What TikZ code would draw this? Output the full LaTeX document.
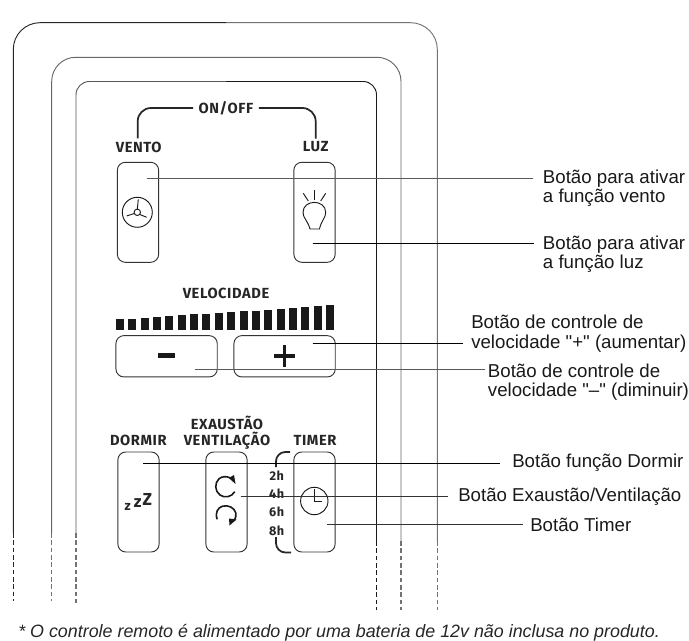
\documentclass[tikz,border=0pt]{standalone}
\usepackage{fontspec}
\setmainfont{Liberation Sans}
\newfontfamily\labelfont{Liberation Sans}
\newfontfamily\panelfont[LetterSpace=4]{Fira Sans}
\newcommand{\vbar}[2]{\fill[black!90] (#1,330) rectangle (#1+8,#2);}
\tikzset{
  btn/.style={draw=black!80,line width=.7pt,rounded corners=6pt,inner sep=0pt},
  tall/.style={btn,minimum width=31pt,minimum height=75pt},
  wide/.style={btn,minimum width=76pt,minimum height=31pt},
  panel/.style={font=\panelfont\bfseries\fontsize{11}{11.8}\selectfont,text=black!85,inner sep=0pt,align=center},
  hours/.style={panel,font=\panelfont\bfseries\fontsize{9.5}{10}\selectfont},
  callout/.style={font=\labelfont\fontsize{14}{14.6}\selectfont,text=black!90,inner sep=0pt,align=left,anchor=west},
  leader/.style={line width=.6pt},
  case/.style={line width=.7pt},
  casedash/.style={line width=.8pt,dash pattern=on 3.5pt off 2pt},
  brace/.style={line width=1.3pt,black!85,rounded corners=7pt},
  icon/.style={line width=.7pt,black!90},
  turn/.style={line width=1.2pt,black!90},
}
\begin{document}
\begin{tikzpicture}[x=.75pt,y=-.75pt]
  \useasboundingbox (0,0) rectangle (689,641);
  % body of the remote
  \draw[case,black!85,rounded corners=20pt] (13.3,533) -- (13.3,22.7) -- (226,22.7);
  \draw[case,black!55,rounded corners=20pt] (226,22.7) -- (437.3,22.7) -- (437.3,541);
  \draw[case,black!60,rounded corners=18pt] (51.7,533) -- (51.7,57.3) -- (401,57.3) -- (401,541);
  \draw[case,black!65,rounded corners=10pt] (76,533) -- (76,81.5) -- (226,81.5);
  \draw[case,black!90,rounded corners=10pt] (226,81.5) -- (376.5,81.5) -- (376.5,541);
  \draw[casedash,black!85] (13.3,533) -- (13.3,601);
  \draw[casedash,black!55] (51.7,533) -- (51.7,601);
  \draw[casedash,black!55] (76,533) -- (76,603);
  \draw[casedash,black!90] (376.5,541) -- (376.5,610);
  \draw[casedash,black!55] (401,541) -- (401,610);
  \draw[casedash,black!55] (437.3,541) -- (437.3,610);
  % on/off
  \node[panel,inner xsep=4pt] (onoff) at (226,108) {ON/OFF};
  \node[panel] (vento) at (138.7,147) {VENTO};
  \node[panel] (luz) at (315.7,147) {LUZ};
  \draw[brace,rounded corners=10pt] (vento.north) ++(-1,-3) |- (onoff.west);
  \draw[brace,rounded corners=10pt] (luz.north) ++(0,-3) |- (onoff.east);
  \node[tall] (btnvento) at (138,212.3) {};
  \node[tall] (btnluz) at (314.5,212.3) {};
  % fan
  \draw[icon] (137.3,212.3) circle (15);
  \draw[icon] (137.3,212.3) circle (3.2);
  \draw[icon] (137.3,209.1) -- (138.3,199.3);
  \draw[icon] (134.3,213.5) -- (126.7,216);
  \draw[icon] (139.8,214.5) -- (146.7,217.3);
  % lamp
  \draw[icon] (314.3,190) -- (314.3,200);
  \draw[icon] (303.3,193.3) -- (308.3,201);
  \draw[icon] (325.7,193.3) -- (320.7,201);
  \draw[icon] (310,229) .. controls (308,221) and (303,218) .. (303,212.5) .. controls (303,199) and (325.7,199) .. (325.7,212.5) .. controls (325.7,218) and (321,221) .. (319.5,229) -- cycle;
  % speed
  \node[panel] (velocidade) at (226,293) {VELOCIDADE};
  \vbar{116}{319}
  \vbar{128.4}{319}
  \vbar{140.7}{318}
  \vbar{153}{317}
  \vbar{165.4}{316}
  \vbar{177.7}{315}
  \vbar{190.1}{314}
  \vbar{202.4}{314}
  \vbar{214.8}{313}
  \vbar{227.1}{312}
  \vbar{239.5}{311}
  \vbar{251.8}{311}
  \vbar{264.2}{310}
  \vbar{276.5}{309}
  \vbar{288.9}{308}
  \vbar{301.2}{307}
  \vbar{313.6}{306}
  \vbar{326}{305}
  \node[wide] (btnminus) at (166.6,356.3) {};
  \node[wide] (btnplus) at (284.6,356.3) {};
  \fill[black!90] (158,352.7) rectangle (174.7,358);
  \fill[black!90] (273.6,354.3) rectangle (295,357.8);
  \fill[black!90] (282.6,345.5) rectangle (286.1,367);
  % bottom row
  \node[panel] (dormir) at (138.3,440.7) {DORMIR};
  \node[panel] (exaustao) at (227,433) {EXAUSTÃO\\VENTILAÇÃO};
  \node[panel] (timer) at (315,440.7) {TIMER};
  \node[tall] (btndormir) at (138.5,502) {};
  \node[tall] (btnexaust) at (226.5,502) {};
  \node[tall] (btntimer) at (314.5,502) {};
  % sleep
  \node[panel,font=\panelfont\bfseries\fontsize{10}{10}\selectfont] (za) at (127.7,507) {z};
  \node[panel,font=\panelfont\bfseries\fontsize{12.5}{12.5}\selectfont] (zb) at (137.7,503) {z};
  \node[panel,font=\panelfont\bfseries\fontsize{13}{13}\selectfont] (zc) at (147.3,499) {Z};
  % fan direction
  \draw[turn] (234.7,491.7) .. controls (231.5,497.3) and (224.5,498.3) .. (220,495) .. controls (214.5,491) and (214.5,483) .. (219,478.8) .. controls (222,476.2) and (226.5,476) .. (230.5,478);
  \fill[black!90] (228.8,478) -- (234,475) -- (235.5,484) -- cycle;
  \draw[turn] (217.2,519.3) .. controls (214.7,512.5) and (218,507.5) .. (222.5,506.2) .. controls (228,504.7) and (234.5,507.5) .. (235.8,513) .. controls (236.3,515.5) and (235.7,518) .. (234.5,520);
  \fill[black!90] (236.5,519.5) -- (229,518.5) -- (229.5,525.5) -- cycle;
  % timer
  \draw[brace] (290,452) -| (276,467);
  \draw[brace] (276,537) |- (291,552.5);
  \node[hours] (h2) at (276.7,475.7) {2h};
  \node[hours] (h4) at (276.7,493.7) {4h};
  \node[hours] (h6) at (276.7,512.3) {6h};
  \node[hours] (h8) at (276.7,530.7) {8h};
  \draw[icon] (314.3,501) circle (13.7);
  \draw[icon] (314.3,489) -- (314.3,501) -- (322.3,501);
  % callouts
  \node[callout] (txtvento) at (542.7,188) {Botão para ativar\\a função vento};
  \node[callout] (txtluz) at (542.7,254) {Botão para ativar\\a função luz};
  \node[callout] (txtplus) at (471,333.6) {Botão de controle de\\velocidade "+" (aumentar)};
  \node[callout] (txtminus) at (487.7,382) {Botão de controle de\\velocidade "–" (diminuir)};
  \node[callout] (txtdormir) at (512,463) {Botão função Dormir};
  \node[callout] (txtexaust) at (458,497) {Botão Exaustão/Ventilação};
  \node[callout] (txttimer) at (530,525) {Botão Timer};
  \coordinate (inv) at (147.3,178);
  \coordinate (inl) at (312.7,243);
  \coordinate (inp) at (312.7,343);
  \coordinate (inm) at (195.3,369);
  \coordinate (ind) at (143.3,463.3);
  \coordinate (ine) at (240.7,496.7);
  \coordinate (int) at (327,524.7);
  \draw[leader,black!65] (inv) -- (532.7,178) coordinate (outv);
  \draw[leader] (inl) -- (534,243) coordinate (outl);
  \draw[leader] (inp) -- (463.3,343) coordinate (outp);
  \draw[leader,black!65] (inm) -- (485,369) coordinate (outm);
  \draw[leader] (ind) -- (500,463.3) coordinate (outd);
  \draw[leader,black!80] (ine) -- (448,496.7) coordinate (oute);
  \draw[leader,black!80] (int) -- (523,524.7) coordinate (outt);
  \node[font=\labelfont\itshape\fontsize{13.4}{14}\selectfont,text=black!85,inner sep=0pt,anchor=west] (note) at (18,633) {* O controle remoto é alimentado por uma bateria de 12v não inclusa no produto.};
\end{tikzpicture}
\end{document}
